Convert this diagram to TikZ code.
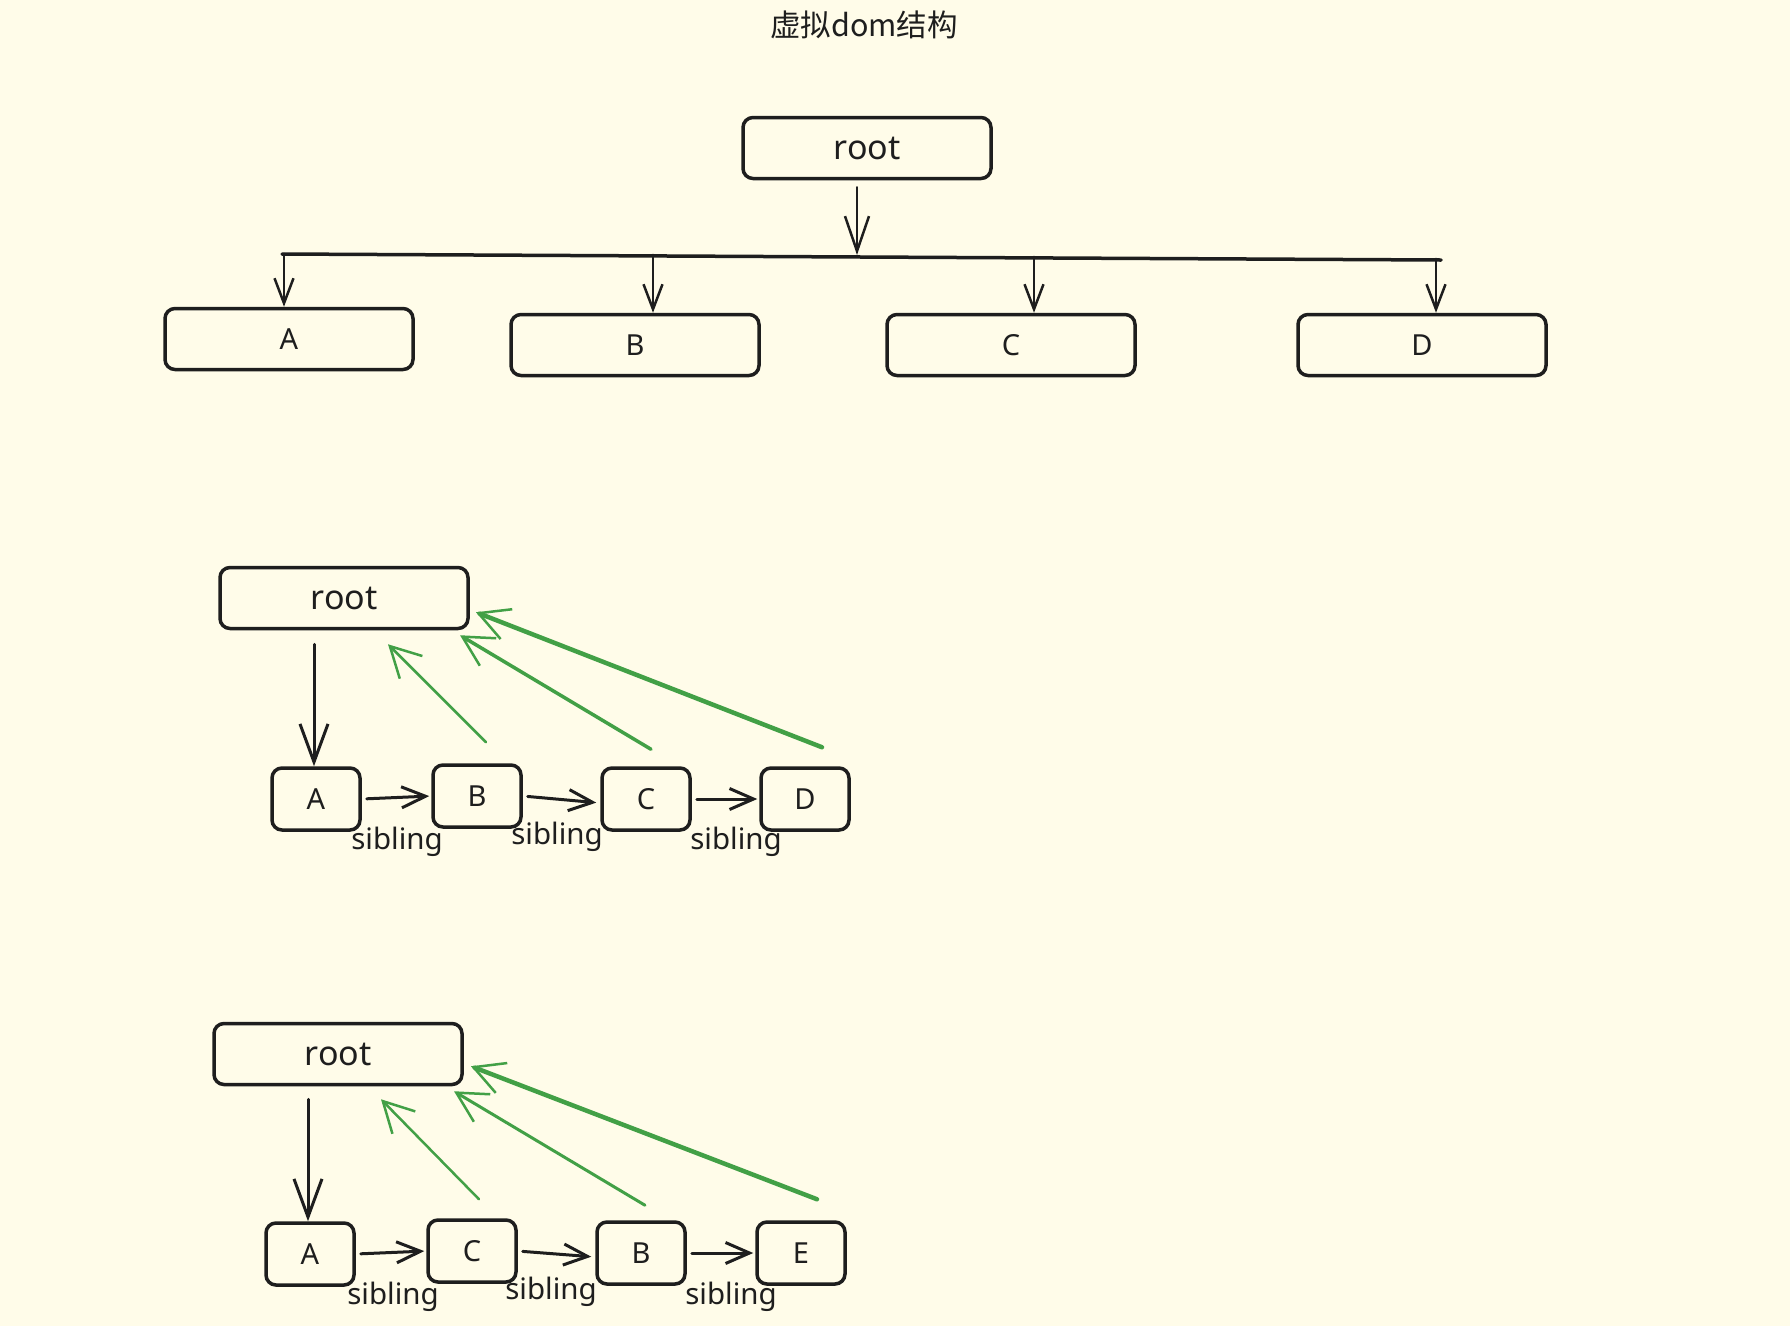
\documentclass[tikz,border=0pt]{standalone}
\usepackage{fontspec}
\setmainfont{Noto Sans}
\newfontfamily\cjk{Noto Sans CJK SC}
\usetikzlibrary{arrows.meta,calc}
\definecolor{bg}{HTML}{FFFCE9}
\definecolor{ink}{HTML}{1E1E1E}
\definecolor{grn}{HTML}{42A046}
\begin{document}
\begin{tikzpicture}[x=1pt,y=-1pt,
  box/.style={draw=ink, line width=3.5pt, rounded corners=10pt, minimum width=248pt, minimum height=61pt, inner sep=0pt, text=ink, font=\fontsize{29}{32}\selectfont},
  rbox/.style={box, font=\fontsize{34}{38}\selectfont},
  sbox/.style={box, minimum width=88pt, minimum height=62pt},
  lbl/.style={text=ink, inner sep=0pt, font=\fontsize{29.5}{32}\selectfont},
  busline/.style={draw=ink, line width=3.5pt, line cap=round},
  barr/.style={draw=ink, line width=2.5pt, line cap=round, -{Straight Barb[length=35pt,width=24pt,line width=2.5pt]}},
  carr/.style={draw=ink, line width=2.5pt, line cap=round, -{Straight Barb[length=25pt,width=19pt,line width=2.5pt]}},
  darr/.style={draw=ink, line width=3pt, line cap=round, -{Straight Barb[length=38pt,width=28pt,line width=3pt]}},
  sarr/.style={draw=ink, line width=3pt, line cap=round, -{Straight Barb[length=24pt,width=21pt,line width=3pt]}},
  garr/.style={draw=grn, line cap=round, -{Straight Barb[length=30pt,width=32pt,line width=2.5pt]}}
]
\fill[bg] (0,0) rectangle (1790,1326);
\useasboundingbox (0,0) rectangle (1790,1326);

% title
\node[text=ink, inner sep=0pt, font=\cjk\fontsize{30.5}{34}\selectfont] (title) at (864,25) {虚拟dom结构};

% ---------- top tree ----------
\node[rbox] (root) at (867,148) {root};
\node[box] (A) at (289,339) {A};
\node[box] (B) at (635,345) {B};
\node[box] (C) at (1011,345) {C};
\node[box] (D) at (1422,345) {D};
\coordinate (busL) at (282,254);
\coordinate (busR) at (1441,260);
\coordinate (busM) at (857,255);
\draw[busline] (busL) -- (busR);
\draw[barr, shorten <=7pt] ($(root.south)+(-10,0)$) -- (busM);
\draw[carr] ($(A.north)+(-5,-53)$) -- ($(A.north)+(-5,0)$);
\draw[carr] ($(B.north)+(18,-58)$) -- ($(B.north)+(18,0)$);
\draw[carr] ($(C.north)+(23,-56)$) -- ($(C.north)+(23,0)$);
\draw[carr] ($(D.north)+(14,-54)$) -- ($(D.north)+(14,0)$);

% ---------- middle ----------
\node[rbox] (root2) at (344,598) {root};
\node[sbox] (A2) at (316,799) {A};
\node[sbox] (B2) at (477,796) {B};
\node[sbox] (C2) at (646,799) {C};
\node[sbox] (D2) at (805,799) {D};
\draw[darr, shorten <=14pt] ($(root2.south)+(-30,0)$) -- ($(A2.north)+(-2,0)$);
\draw[sarr, shorten <=5pt, shorten >=2pt] (A2.east) -- (B2.west);
\draw[sarr, shorten <=5pt, shorten >=4pt] (B2.east) -- ($(C2.west)+(0,4)$);
\draw[sarr, shorten <=5pt, shorten >=2pt] (C2.east) -- (D2.west);
\node[lbl] (s1) at (397,842) {sibling};
\node[lbl] (s2) at (557,837) {sibling};
\node[lbl] (s3) at (736,842) {sibling};
\draw[garr, line width=2.5pt] ($(B2.north)+(9,-21)$) -- ($(root2.south)+(44,14)$);
\draw[garr, line width=3.5pt] ($(C2.north)+(5,-17)$) -- ($(root2.south)+(116,5)$);
\draw[garr, line width=4.5pt] ($(D2.north)+(17,-19)$) -- ($(root2.south)+(132,-18)$);

% ---------- bottom ----------
\node[rbox] (root3) at (338,1054) {root};
\node[sbox] (A3) at (310,1254) {A};
\node[sbox] (C3) at (472,1251) {C};
\node[sbox] (B3) at (641,1253) {B};
\node[sbox] (E3) at (801,1253) {E};
\draw[darr, shorten <=13pt] ($(root3.south)+(-30,0)$) -- ($(A3.north)+(-2,0)$);
\draw[sarr, shorten <=5pt, shorten >=2pt] (A3.east) -- (C3.west);
\draw[sarr, shorten <=5pt, shorten >=4pt] (C3.east) -- ($(B3.west)+(0,4)$);
\draw[sarr, shorten <=5pt, shorten >=2pt] (B3.east) -- (E3.west);
\node[lbl] (t1) at (393,1297) {sibling};
\node[lbl] (t2) at (551,1292) {sibling};
\node[lbl] (t3) at (731,1297) {sibling};
\draw[garr, line width=2.5pt] ($(C3.north)+(7,-19)$) -- ($(root3.south)+(43,13)$);
\draw[garr, line width=3pt] ($(B3.north)+(4,-15)$) -- ($(root3.south)+(116,5)$);
\draw[garr, line width=4.5pt] ($(E3.north)+(16,-21)$) -- ($(root3.south)+(133,-20)$);
\end{tikzpicture}
\end{document}
